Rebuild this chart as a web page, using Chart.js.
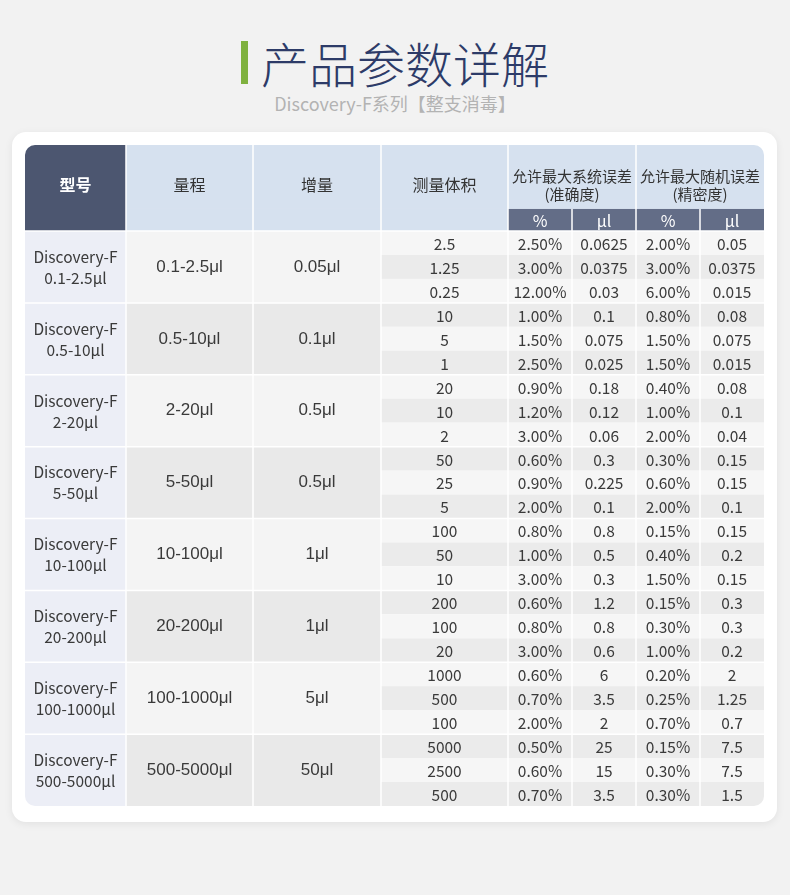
<!DOCTYPE html>
<html>
<head>
<meta charset="utf-8">
<script src="https://cdn.jsdelivr.net/npm/chart.js@4/dist/chart.umd.min.js"></script>
<style>
  body { margin: 0; width: 790px; height: 895px; background: #f2f2f2; position: relative; overflow: hidden;
         font-family: "Noto Sans CJK SC", sans-serif; }
  #head { position: absolute; left: 0; top: 38px; width: 790px; display: flex; justify-content: center; align-items: center; }
  #bar { width: 7px; height: 43px; background: #7fb13f; margin-right: 13px; }
  #title { font-size: 48px; line-height: 48px; font-weight: 300; color: #2d3b68; }
  #sub { position: absolute; left: 0; top: 92px; width: 790px; text-align: center; font-size: 18px; line-height: 22px; color: #b3b3b3; }
  #card { position: absolute; left: 12px; top: 132px; width: 765px; height: 690px; background: #fff; border-radius: 14px;
          box-shadow: 0 2px 8px rgba(0,0,0,0.07); }
  #wrap { position: absolute; left: 25px; top: 145px; width: 739px; height: 661px; }
</style>
</head>
<body>
<div id="head"><div id="bar"></div><div id="title">产品参数详解</div></div>
<div id="sub">Discovery-F系列【整支消毒】</div>
<div id="card"></div>
<div id="wrap"><canvas id="table" width="739" height="661"></canvas></div>
<script>
// column titles
const headers = ['型号', '量程', '增量', '测量体积'];
const errHeaders = [['允许最大系统误差', '(准确度)'], ['允许最大随机误差', '(精密度)']];
const subHeaders = ['%', 'μl', '%', 'μl'];

// one entry per model
const models = ['0.1-2.5μl', '0.5-10μl', '2-20μl', '5-50μl', '10-100μl', '20-200μl', '100-1000μl', '500-5000μl'];
const ranges = ['0.1-2.5μl', '0.5-10μl', '2-20μl', '5-50μl', '10-100μl', '20-200μl', '100-1000μl', '500-5000μl'];
const increments = ['0.05μl', '0.1μl', '0.5μl', '0.5μl', '1μl', '1μl', '5μl', '50μl'];

// three test volumes per model
const volumes = ['2.5', '1.25', '0.25', '10', '5', '1', '20', '10', '2', '50', '25', '5',
                 '100', '50', '10', '200', '100', '20', '1000', '500', '100', '5000', '2500', '500'];
const sysPct = ['2.50%', '3.00%', '12.00%', '1.00%', '1.50%', '2.50%', '0.90%', '1.20%', '3.00%', '0.60%', '0.90%', '2.00%',
                '0.80%', '1.00%', '3.00%', '0.60%', '0.80%', '3.00%', '0.60%', '0.70%', '2.00%', '0.50%', '0.60%', '0.70%'];
const sysUl = ['0.0625', '0.0375', '0.03', '0.1', '0.075', '0.025', '0.18', '0.12', '0.06', '0.3', '0.225', '0.1',
               '0.8', '0.5', '0.3', '1.2', '0.8', '0.6', '6', '3.5', '2', '25', '15', '3.5'];
const randPct = ['2.00%', '3.00%', '6.00%', '0.80%', '1.50%', '1.50%', '0.40%', '1.00%', '2.00%', '0.30%', '0.60%', '2.00%',
                 '0.15%', '0.40%', '1.50%', '0.15%', '0.30%', '1.00%', '0.20%', '0.25%', '0.70%', '0.15%', '0.30%', '0.30%'];
const randUl = ['0.05', '0.0375', '0.015', '0.08', '0.075', '0.015', '0.08', '0.1', '0.04', '0.15', '0.15', '0.1',
                '0.15', '0.2', '0.15', '0.3', '0.3', '0.2', '2', '1.25', '0.7', '7.5', '7.5', '1.5'];

// layout
const colWidths = [101, 127, 128, 127, 64, 64, 64, 64];
const colEdges = colWidths.reduce((acc, w) => { acc.push(acc[acc.length - 1] + w); return acc; }, [0]);
const ROWS = volumes.length;
const HEAD = 3.59;   // header height in row units
const SUB = 0.92;    // sub header height in row units

const dark = '#4c5670', darkSub = '#636d87', blue = '#d6e1ef', lavender = '#eceef6';
const txt = '#3a3a3a';
const cjk = '"Noto Sans CJK SC", sans-serif';
const latin = '"Liberation Sans", sans-serif';

const tablePlugin = {
  id: 'tablePlugin',
  beforeDraw(chart) {
    const { ctx, chartArea: a } = chart;
    const xs = chart.scales.x, ys = chart.scales.y;
    const X = c => xs.getPixelForValue(colEdges[c]);
    const Y = r => ys.getPixelForValue(r);
    const cell = (c0, c1, r0, r1, fill) => {
      ctx.fillStyle = fill;
      ctx.fillRect(X(c0), Y(r0), X(c1) - X(c0), Y(r1) - Y(r0));
    };
    const text = (s, c0, c1, py, font, color) => {
      ctx.font = font; ctx.fillStyle = color;
      ctx.fillText(s, (X(c0) + X(c1)) / 2, py);
    };

    ctx.save();
    ctx.beginPath();
    ctx.roundRect(a.left, a.top, a.right - a.left, a.bottom - a.top, 10);
    ctx.clip();
    ctx.textAlign = 'center';
    ctx.textBaseline = 'middle';

    // header
    cell(0, 1, -HEAD, 0, dark);
    cell(1, 8, -HEAD, -SUB, blue);
    cell(1, 4, -SUB, 0, blue);
    cell(4, 8, -SUB, 0, darkSub);
    const hMid = (Y(-HEAD) + Y(0)) / 2 - 3;
    headers.forEach((h, i) => text(h, i, i + 1, hMid, (i === 0 ? 'bold ' : '') + '16px ' + cjk, i === 0 ? '#fff' : '#333'));
    errHeaders.forEach((lines, i) => {
      text(lines[0], 4 + 2 * i, 6 + 2 * i, Y(-HEAD) + 31, '15px ' + cjk, '#333');
      text(lines[1], 4 + 2 * i, 6 + 2 * i, Y(-HEAD) + 49, '15px ' + cjk, '#333');
    });
    subHeaders.forEach((h, i) => text(h, 4 + i, 5 + i, (Y(-SUB) + Y(0)) / 2 + 1, '16px ' + cjk, '#fff'));

    // body
    models.forEach((m, g) => {
      const r0 = g * 3, r1 = r0 + 3;
      cell(0, 1, r0, r1, lavender);
      cell(1, 3, r0, r1, g % 2 ? '#e9e9e9' : '#f4f4f4');
      const mid = (Y(r0) + Y(r1)) / 2;
      text('Discovery-F', 0, 1, mid - 10, '15.5px ' + cjk, txt);
      text(m, 0, 1, mid + 11, '15.5px ' + cjk, txt);
      text(ranges[g], 1, 2, mid, '17px ' + latin, txt);
      text(increments[g], 2, 3, mid, '17px ' + latin, txt);
    });
    volumes.forEach((v, r) => {
      cell(3, 8, r, r + 1, r % 2 ? '#ebebeb' : '#f6f6f6');
      const mid = (Y(r) + Y(r + 1)) / 2 + 1;
      const font = '15.5px ' + cjk;
      text(v, 3, 4, mid, font, txt);
      text(sysPct[r], 4, 5, mid, font, txt);
      text(sysUl[r], 5, 6, mid, font, txt);
      text(randPct[r], 6, 7, mid, font, txt);
      text(randUl[r], 7, 8, mid, font, txt);
    });

    // white separators
    ctx.strokeStyle = '#ffffff';
    ctx.lineWidth = 1.5;
    ctx.beginPath();
    for (let c = 1; c < colEdges.length - 1; c++) {
      const top = (c === 5 || c === 7) ? Y(-SUB) : Y(-HEAD);
      ctx.moveTo(X(c), top); ctx.lineTo(X(c), Y(ROWS));
    }
    for (let g = 1; g < models.length; g++) {
      ctx.moveTo(X(0), Y(g * 3)); ctx.lineTo(X(8), Y(g * 3));
    }
    ctx.moveTo(X(0), Y(0)); ctx.lineTo(X(8), Y(0));
    ctx.stroke();
    ctx.restore();
  }
};

new Chart(document.getElementById('table'), {
  type: 'scatter',
  data: { datasets: [] },
  options: {
    responsive: false,
    animation: false,
    events: [],
    layout: { padding: 0 },
    plugins: { legend: { display: false }, tooltip: { enabled: false } },
    scales: {
      x: { type: 'linear', min: 0, max: colEdges[colEdges.length - 1], display: false },
      y: { type: 'linear', min: -HEAD, max: ROWS, reverse: true, display: false }
    }
  },
  plugins: [tablePlugin]
});
</script>
</body>
</html>
